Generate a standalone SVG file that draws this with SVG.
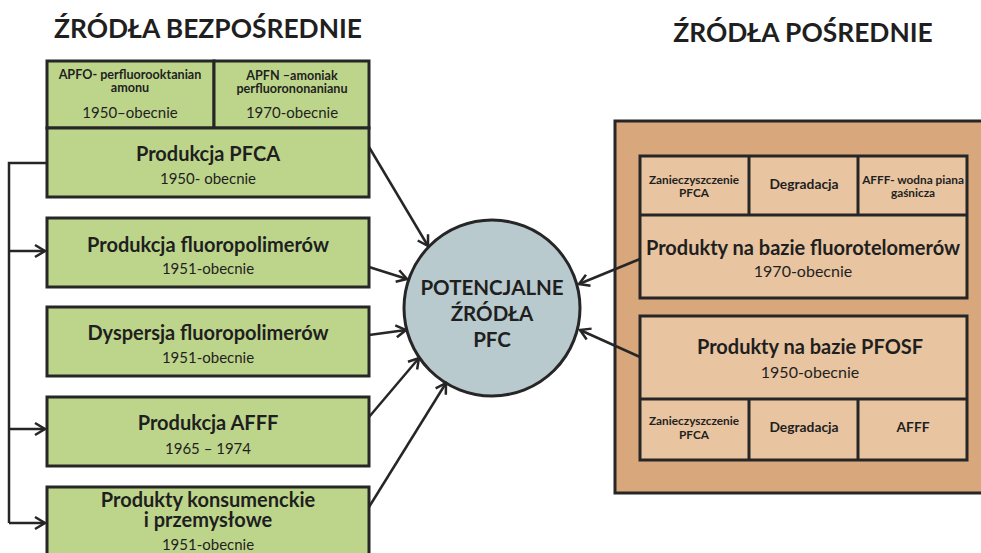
<svg xmlns="http://www.w3.org/2000/svg" width="981" height="553" viewBox="0 0 981 553">
  <style>
    .title { font-family: Lato, "Noto Sans", sans-serif; font-weight: 700; font-size: 26.4px; fill: #1f1f1f; text-anchor: middle; }
    .green { fill: #bdd58b; stroke: #262626; stroke-width: 3; }
    .outer { fill: #d8a77b; stroke: #262626; stroke-width: 3; }
    .tan { fill: #e8c4a0; stroke: #262626; stroke-width: 3; }
    .hub { fill: #b8cace; stroke: #262626; stroke-width: 3; }
    .big { font-family: Lato, "Noto Sans", sans-serif; font-weight: 700; font-size: 20px; fill: #1f1f1f; text-anchor: middle; }
    .date { font-family: Lato, "Noto Sans", sans-serif; font-size: 15px; fill: #1f1f1f; text-anchor: middle; }
    .date16 { font-family: Lato, "Noto Sans", sans-serif; font-size: 16px; fill: #1f1f1f; text-anchor: middle; }
    .small { font-family: Lato, "Noto Sans", sans-serif; font-weight: 700; font-size: 12.6px; fill: #1f1f1f; text-anchor: middle; }
    .tiny { font-family: Lato, "Noto Sans", sans-serif; font-weight: 700; font-size: 11.8px; fill: #1f1f1f; text-anchor: middle; }
    .mid { font-family: Lato, "Noto Sans", sans-serif; font-weight: 700; font-size: 13.8px; fill: #1f1f1f; text-anchor: middle; }
    .hubtxt { font-family: Lato, "Noto Sans", sans-serif; font-weight: 700; font-size: 20.5px; fill: #1f1f1f; text-anchor: middle; }
    .link { fill: none; stroke: #262626; stroke-width: 2.5; marker-end: url(#chev); }
    .rule { stroke: #262626; stroke-width: 3; }
  </style>
  <defs>
    <marker id="chev" viewBox="-12 -8 14 16" markerWidth="14" markerHeight="16" refX="0" refY="0" orient="auto" markerUnits="userSpaceOnUse">
      <path d="M-10,-6 L0,0 L-10,6" fill="none" stroke="#262626" stroke-width="2.5"/>
    </marker>
  </defs>

  <rect width="981" height="553" fill="#ffffff"/>

  <text class="title" x="208" y="38">ŹRÓDŁA BEZPOŚREDNIE</text>
  <text class="title" x="803" y="42">ŹRÓDŁA POŚREDNIE</text>

  <!-- direct sources -->
  <g id="apfo">
    <rect class="green" x="47" y="61" width="167" height="67"/>
    <text class="small" x="130" y="79">APFO- perfluorooktanian</text>
    <text class="small" x="130" y="92">amonu</text>
    <text class="date" x="130" y="118" font-size="13.5">1950–obecnie</text>
  </g>
  <g id="apfn">
    <rect class="green" x="214" y="61" width="155" height="67"/>
    <text class="small" x="292" y="80">APFN –amoniak</text>
    <text class="small" x="292" y="93">perfluorononanianu</text>
    <text class="date" x="292" y="118" font-size="13.5">1970-obecnie</text>
  </g>
  <g id="pfca">
    <rect class="green" x="47" y="128" width="322" height="69"/>
    <text class="big" x="208" y="161">Produkcja PFCA</text>
    <text class="date" x="208" y="184">1950- obecnie</text>
  </g>
  <g id="fluoropolimery">
    <rect class="green" x="47" y="218" width="322" height="69"/>
    <text class="big" x="208" y="252">Produkcja fluoropolimerów</text>
    <text class="date" x="208" y="274">1951-obecnie</text>
  </g>
  <g id="dyspersja">
    <rect class="green" x="47" y="307" width="322" height="69"/>
    <text class="big" x="208" y="340">Dyspersja fluoropolimerów</text>
    <text class="date" x="208" y="363">1951-obecnie</text>
  </g>
  <g id="afff">
    <rect class="green" x="47" y="397" width="322" height="69"/>
    <text class="big" x="208" y="430">Produkcja AFFF</text>
    <text class="date" x="208" y="454">1965 – 1974</text>
  </g>
  <g id="produkty">
    <rect class="green" x="47" y="487" width="322" height="80"/>
    <text class="big" x="208" y="507">Produkty konsumenckie</text>
    <text class="big" x="208" y="527">i przemysłowe</text>
    <text class="date" x="208" y="550">1951-obecnie</text>
  </g>

  <!-- hub -->
  <g id="hub">
    <circle class="hub" cx="492" cy="308" r="88"/>
    <text class="hubtxt" x="492" y="295">POTENCJALNE</text>
    <text class="hubtxt" x="492" y="321">ŹRÓDŁA</text>
    <text class="hubtxt" x="492" y="347">PFC</text>
  </g>

  <!-- indirect sources -->
  <g id="posrednie">
    <rect class="outer" x="615" y="121" width="380" height="372"/>
  </g>
  <g id="fluorotelomery">
    <rect class="tan" x="640" y="156" width="327" height="142"/>
    <line class="rule" x1="640" y1="215" x2="967" y2="215"/>
    <line class="rule" x1="749" y1="156" x2="749" y2="215"/>
    <line class="rule" x1="858" y1="156" x2="858" y2="215"/>
    <text class="tiny" x="694" y="184">Zanieczyszczenie</text>
    <text class="tiny" x="694" y="197">PFCA</text>
    <text class="mid" x="804" y="189">Degradacja</text>
    <text class="tiny" x="913" y="184">AFFF- wodna piana</text>
    <text class="tiny" x="913" y="197">gaśnicza</text>
    <text class="big" x="803" y="255">Produkty na bazie fluorotelomerów</text>
    <text class="date16" x="803" y="277">1970-obecnie</text>
  </g>
  <g id="pfosf">
    <rect class="tan" x="640" y="316" width="327" height="144"/>
    <line class="rule" x1="640" y1="399" x2="967" y2="399"/>
    <line class="rule" x1="749" y1="399" x2="749" y2="460"/>
    <line class="rule" x1="858" y1="399" x2="858" y2="460"/>
    <text class="big" x="810" y="354">Produkty na bazie PFOSF</text>
    <text class="date16" x="810" y="378">1950-obecnie</text>
    <text class="tiny" x="694" y="425">Zanieczyszczenie</text>
    <text class="tiny" x="694" y="439">PFCA</text>
    <text class="mid" x="804" y="432">Degradacja</text>
    <text class="mid" x="913" y="432">AFFF</text>
  </g>

  <!-- connectors -->
  <g id="connectors">
    <polyline points="47,163 9,163 9,523" fill="none" stroke="#262626" stroke-width="2.5"/>
    <line class="link" x1="9" y1="251" x2="45" y2="251"/>
    <line class="link" x1="9" y1="429" x2="45" y2="429"/>
    <line class="link" x1="9" y1="523" x2="45" y2="523"/>
    <line class="link" x1="369" y1="147" x2="428" y2="246"/>
    <line class="link" x1="369" y1="267" x2="407" y2="279"/>
    <line class="link" x1="369" y1="335" x2="406" y2="330"/>
    <line class="link" x1="369" y1="417" x2="419" y2="358"/>
    <line class="link" x1="369" y1="507" x2="446" y2="383"/>
    <line class="link" x1="640" y1="259" x2="579" y2="284"/>
    <line class="link" x1="640" y1="357" x2="580" y2="330"/>
  </g>
</svg>
